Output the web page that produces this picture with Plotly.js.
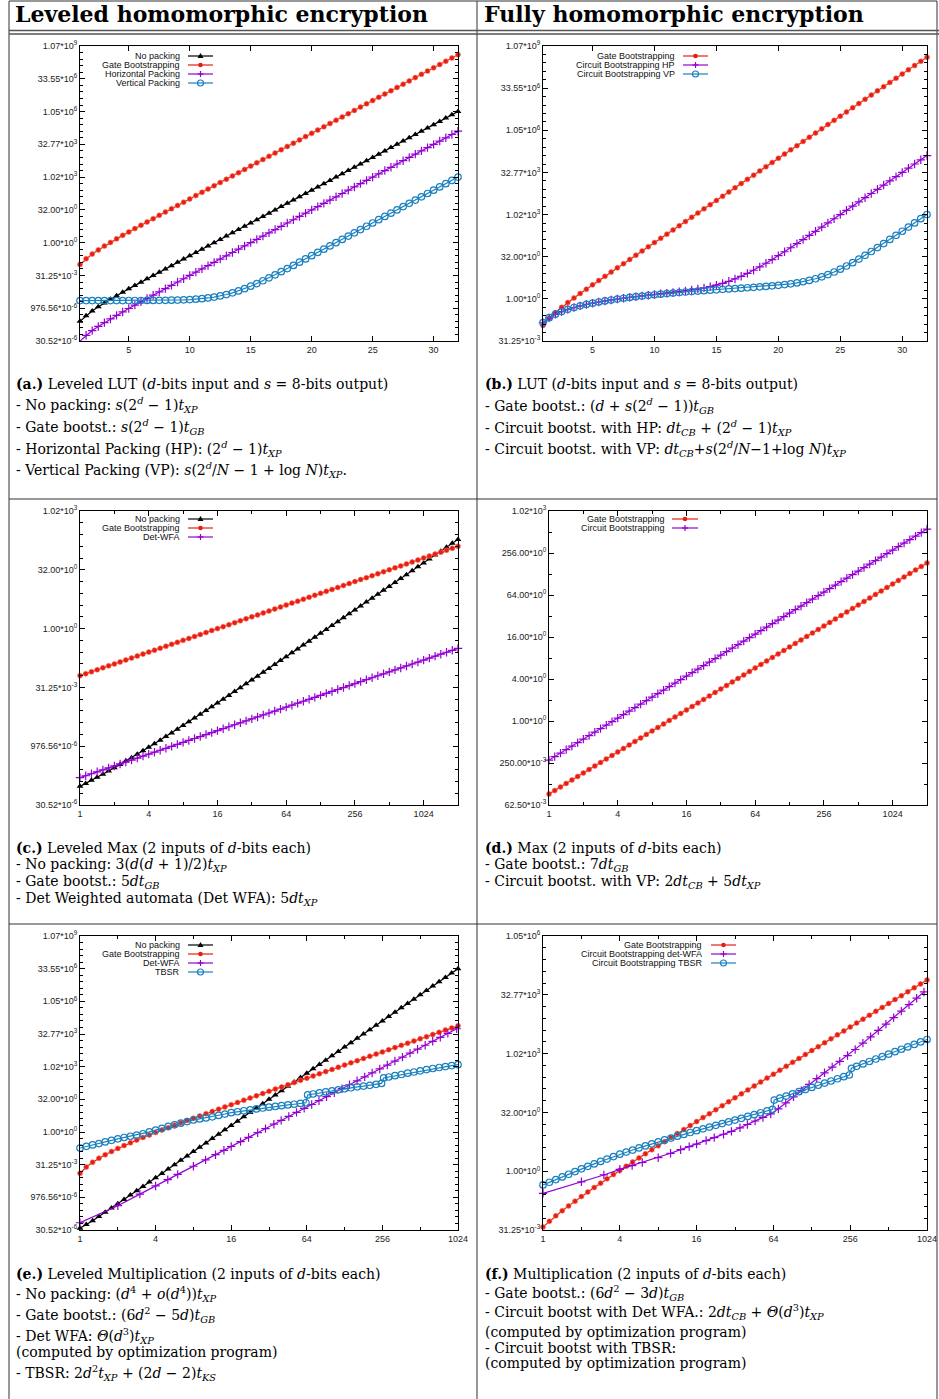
<!DOCTYPE html>
<html><head><meta charset="utf-8">
<script src="https://cdn.plot.ly/plotly-3.0.1.min.js"></script>
<style>html,body{margin:0;padding:0;background:#fff}#chart{width:939px;height:1399px}</style>
</head><body><div id="chart"></div>
<script>
// ---------------- DATA (seconds) ----------------
const ab_d = [1,1.5,2,2.5,3,3.5,4,4.5,5,5.5,6,6.5,7,7.5,8,8.5,9,9.5,10,10.5,11,11.5,12,12.5,13,13.5,14,14.5,15,15.5,16,16.5,17,17.5,18,18.5,19,19.5,20,20.5,21,21.5,22,22.5,23,23.5,24,24.5,25,25.5,26,26.5,27,27.5,28,28.5,29,29.5,30,30.5,31,31.5,32];
// (a) Leveled LUT
const a_nopack = [2.44e-4,4.46e-4,7.32e-4,1.137e-3,1.709e-3,2.517e-3,3.662e-3,5.28e-3,7.568e-3,1.08e-2,1.538e-2,2.185e-2,3.101e-2,4.395e-2,6.226e-2,8.814e-2,0.1248,0.1765,0.2498,0.3533,0.4998,0.7068,0.9998,1.414,2,2.828,4,5.657,8,11.31,16,22.63,32,45.25,64,90.51,128,181,256,362,512,724.1,1024,1448,2048,2896,4096,5793,8192,11585,16384,23170,32768,46341,65536,92682,131072,185364,262144,370728,524288,741455,1048576];
const a_gate = [0.1,0.1828,0.3,0.4657,0.7,1.031,1.5,2.163,3.1,4.425,6.3,8.951,12.7,18.0,25.5,36.1,51.1,72.3,102.3,144.7,204.7,289.5,409.5,579.2,819.1,1158,1638,2317,3277,4634,6554,9268,13107,18536,26214,37073,52429,74146,1.049e5,1.483e5,2.097e5,2.966e5,4.194e5,5.932e5,8.389e5,1.186e6,1.678e6,2.373e6,3.355e6,4.745e6,6.711e6,9.491e6,1.342e7,1.898e7,2.684e7,3.796e7,5.369e7,7.593e7,1.074e8,1.519e8,2.147e8,3.037e8,4.295e8];
const a_hp = [3.05e-5,5.58e-5,9.16e-5,1.421e-4,2.136e-4,3.146e-4,4.578e-4,6.6e-4,9.46e-4,1.35e-3,1.923e-3,2.732e-3,3.876e-3,5.494e-3,7.782e-3,1.102e-2,1.559e-2,2.206e-2,3.122e-2,4.416e-2,6.247e-2,8.835e-2,0.125,0.1768,0.25,0.3536,0.5,0.7071,1,1.414,2,2.828,4,5.657,8,11.31,16,22.63,32,45.25,64,90.51,128,181,256,362,512,724.1,1024,1448,2048,2896,4096,5793,8192,11585,16384,23170,32768,46341,65536,92682,131072];
const a_vp = [2.198e-3,2.198e-3,2.198e-3,2.198e-3,2.199e-3,2.2e-3,2.201e-3,2.202e-3,2.205e-3,2.208e-3,2.212e-3,2.219e-3,2.228e-3,2.24e-3,2.258e-3,2.284e-3,2.319e-3,2.37e-3,2.441e-3,2.542e-3,2.685e-3,2.887e-3,3.174e-3,3.578e-3,4.15e-3,4.959e-3,6.103e-3,7.721e-3,1.001e-2,1.325e-2,1.782e-2,2.43e-2,3.345e-2,4.639e-2,6.47e-2,9.06e-2,0.1272,0.179,0.2522,0.3558,0.5022,0.7093,1.002,1.416,2.002,2.83,4.002,5.659,8.002,11.32,16,22.63,32,45.25,64,90.5,128,181,256,362,512,724,1024];
// (b) LUT
const b_gate = [0.1125,0.2016,0.325,0.497,0.7375,1.075,1.55,2.219,3.163,4.494,6.375,9.03,12.79,18.1,25.6,36.2,51.2,72.4,102.4,144.8,204.8,289.6,409.6,579.4,819.3,1158,1638,2317,3277,4634,6554,9268,13107,18536,26214,37073,52429,74146,1.049e5,1.483e5,2.097e5,2.966e5,4.194e5,5.932e5,8.389e5,1.186e6,1.678e6,2.373e6,3.355e6,4.745e6,6.711e6,9.491e6,1.342e7,1.898e7,2.684e7,3.796e7,5.369e7,7.593e7,1.074e8,1.519e8,2.147e8,3.037e8,4.295e8];
const b_hp = [0.14,0.21,0.28,0.35,0.42,0.49,0.56,0.631,0.701,0.771,0.842,0.913,0.984,1.055,1.128,1.201,1.276,1.352,1.431,1.514,1.603,1.698,1.805,1.927,2.07,2.244,2.46,2.737,3.1,3.584,4.24,5.138,6.38,8.107,10.52,13.9,18.66,25.36,34.8,48.12,66.94,93.52,131.1,184.2,259.2,365.3,515.4,727.5,1027.5,1452,2052,2900,4100,5797,8196,11589,16388,23174,32772,46345,65540,92686,131077];
const b_vp = [0.142,0.212,0.282,0.352,0.422,0.492,0.562,0.632,0.702,0.772,0.842,0.912,0.982,1.052,1.122,1.192,1.262,1.332,1.402,1.473,1.543,1.613,1.683,1.754,1.824,1.895,1.966,2.038,2.11,2.183,2.258,2.334,2.413,2.496,2.585,2.681,2.787,2.909,3.052,3.226,3.442,3.719,4.082,4.566,5.222,6.12,7.362,9.089,11.5,14.89,19.64,26.34,35.78,49.1,67.92,94.49,132.1,185.1,260.2,366.3,516.3,728.5,1029];
// (c)/(d) Max
const cd_d = [1,1.122,1.26,1.414,1.587,1.782,2,2.245,2.52,2.828,3.175,3.564,4,4.49,5.04,5.657,6.35,7.127,8,8.98,10.08,11.31,12.7,14.25,16,17.96,20.16,22.63,25.4,28.51,32,35.92,40.32,45.25,50.8,57.02,64,71.84,80.63,90.51,101.6,114,128,143.7,161.3,181,203.2,228.1,256,287.4,322.5,362,406.4,456.1,512,574.7,645.1,724.1,812.7,912.3,1024,1149,1290,1448,1625,1825,2048];
const c_nopack = [9.16e-5,1.09e-4,1.304e-4,1.563e-4,1.88e-4,2.269e-4,2.747e-4,3.335e-4,4.061e-4,4.957e-4,6.07e-4,7.447e-4,9.156e-4,1.128e-3,1.394e-3,1.724e-3,2.137e-3,2.652e-3,3.296e-3,4.103e-3,5.113e-3,6.374e-3,7.965e-3,9.949e-3,1.245e-2,1.559e-2,1.953e-2,2.448e-2,3.07e-2,3.852e-2,4.834e-2,6.071e-2,7.627e-2,9.581e-2,0.1205,0.1515,0.1904,0.2396,0.3013,0.3792,0.4772,0.6002,0.7559,0.9519,1.198,1.508,1.9,2.392,3.012,3.795,4.776,6.016,7.58,9.544,12.02,15.15,19.08,24.04,30.27,38.14,48.05,60.49,76.24,96.05,121,152.6,192.1];
const c_gate = [0.0625,0.07013,0.07875,0.08839,0.09921,0.1114,0.125,0.1403,0.1575,0.1768,0.1984,0.2227,0.25,0.2806,0.315,0.3536,0.3969,0.4454,0.5,0.5612,0.63,0.7071,0.7937,0.8909,1,1.122,1.26,1.414,1.587,1.782,2,2.245,2.52,2.828,3.175,3.564,4,4.49,5.04,5.657,6.35,7.127,8,8.98,10.08,11.31,12.7,14.25,16,17.96,20.16,22.63,25.4,28.51,32,35.92,40.32,45.25,50.8,57.02,64,71.84,80.63,90.51,101.6,114,128];
const c_wfa = [1.526e-4,1.713e-4,1.923e-4,2.158e-4,2.422e-4,2.719e-4,3.052e-4,3.426e-4,3.845e-4,4.316e-4,4.845e-4,5.438e-4,6.104e-4,6.852e-4,7.69e-4,8.632e-4,9.69e-4,1.088e-3,1.221e-3,1.37e-3,1.538e-3,1.726e-3,1.938e-3,2.175e-3,2.441e-3,2.741e-3,3.076e-3,3.453e-3,3.876e-3,4.35e-3,4.883e-3,5.481e-3,6.152e-3,6.905e-3,7.752e-3,8.701e-3,9.766e-3,1.096e-2,1.23e-2,1.381e-2,1.55e-2,1.74e-2,1.953e-2,2.192e-2,2.461e-2,2.762e-2,3.101e-2,3.48e-2,3.906e-2,4.385e-2,4.922e-2,5.524e-2,6.201e-2,6.96e-2,7.813e-2,8.77e-2,9.843e-2,0.1105,0.124,0.1392,0.1563,0.1754,0.1969,0.221,0.248,0.2784,0.3125];
const d_gate = [0.09,0.101,0.1134,0.1273,0.1429,0.1604,0.18,0.202,0.2268,0.2545,0.2858,0.3208,0.36,0.4041,0.4536,0.5091,0.5715,0.6414,0.72,0.8082,0.9072,1.018,1.143,1.283,1.44,1.616,1.814,2.036,2.286,2.566,2.88,3.233,3.629,4.073,4.572,5.132,5.76,6.466,7.257,8.146,9.144,10.26,11.52,12.93,14.52,16.29,18.29,20.53,23.04,25.87,29.03,32.58,36.58,41.05,46.08,51.72,58.06,65.17,73.14,82.11,92.16,103.4,116.1,130.3,146.3,164.2,184.3];
const d_circuit = [0.275,0.3087,0.3465,0.3889,0.4365,0.49,0.55,0.6174,0.693,0.7778,0.873,0.98,1.1,1.235,1.386,1.556,1.746,1.96,2.2,2.47,2.772,3.111,3.492,3.92,4.4,4.939,5.544,6.222,6.985,7.841,8.8,9.878,11.09,12.44,13.97,15.68,17.6,19.76,22.18,24.89,27.94,31.36,35.2,39.51,44.35,49.78,55.88,62.73,70.4,79.02,88.7,99.56,111.8,125.5,140.8,158,177.4,199.1,223.5,250.9,281.6,316.1,354.8,398.2,447,501.8,563.2];
// (e)/(f) Multiplication
const ef_d = [1,1.122,1.26,1.414,1.587,1.782,2,2.245,2.52,2.828,3.175,3.564,4,4.49,5.04,5.657,6.35,7.127,8,8.98,10.08,11.31,12.7,14.25,16,17.96,20.16,22.63,25.4,28.51,32,35.92,40.32,45.25,50.8,57.02,64,71.84,80.63,90.51,101.6,114,128,143.7,161.3,181,203.2,228.1,256,287.4,322.5,362,406.4,456.1,512,574.7,645.1,724.1,812.7,912.3,1024];
const e_nopack = [3.7e-5,5.4e-5,8.2e-5,1.28e-4,1.99e-4,3.13e-4,4.95e-4,7.8e-4,1.235e-3,1.955e-3,3.1e-3,4.92e-3,7.81e-3,1.24e-2,1.97e-2,3.125e-2,4.96e-2,7.87e-2,0.125,0.198,0.315,0.5,0.794,1.26,2,3.17,5.04,8,12.7,20.16,32,50.8,80.6,128,203,322.5,512,813,1290,2048,3251,5160,8192,13004,20643,32768,52016,82570,131072,208064,330281,524288,832255,1321122,2.097e6,3.329e6,5.284e6,8.389e6,1.332e7,2.114e7,3.355e7];
const e_gate = [0.0125,0.0243,0.0403,0.0616,0.0898,0.1268,0.175,0.2377,0.3188,0.4232,0.5576,0.7297,0.95,1.231,1.59,2.046,2.627,3.365,4.3,5.486,6.99,8.893,11.3,14.35,18.2,23.07,29.22,36.99,46.8,59.17,74.8,94.53,119.4,150.8,190.3,240.3,303.2,382.6,482.6,608.7,767.7,968.2,1221,1539,1941,2446,3084,3887,4899,6175,7782,9808,12360,15576,19629,24736,31170,39277,49492,62363,78579];
const e_wfa_d = [1,2,3,4,5,6,8,10,12,14,16,19,22,26,30,35,40,46,53,61,70,80,92,106,122,140,161,185,212,244,280,322,370,425,488,561,644,740,850,1000];
const e_wfa = [6.57e-5,4.02e-4,1.369e-3,3.262e-3,6.4e-3,1.11e-2,2.646e-2,5.19e-2,9.01e-2,0.1433,0.2146,0.3608,0.561,0.929,1.433,2.282,3.415,5.213,7.995,12.2,18.51,27.7,42.28,64.85,98.97,150.1,229.1,348.3,526,804.6,1218,1859,2817,4299,6516,9947,15075,22847,34880,57052];
const ef_tbsr_d = [1,1.122,1.26,1.414,1.587,1.782,2,2.245,2.52,2.828,3.175,3.564,4,4.49,5.04,5.657,6.35,7.127,8,8.98,10.08,11.31,12.7,14.25,16,17.96,20.16,22.63,25.4,28.51,32,35.92,40.32,45.25,50.8,57.02,63,65,71.84,80.63,90.51,101.6,114,128,143.7,161.3,181,203.2,228.1,252,262,287.4,322.5,362,406.4,456.1,512,574.7,645.1,724.1,812.7,912.3,1024];
const e_tbsr = [0.183,0.218,0.254,0.293,0.349,0.412,0.483,0.559,0.637,0.722,0.829,1.021,1.231,1.474,1.803,2.144,2.549,3.031,3.58,4.0,4.469,4.993,5.776,6.727,7.782,8.574,9.514,10.48,11.55,12.73,13.93,15.14,16.34,17.63,19.03,20.68,22.32,50.91,56.49,63.12,70.52,78.79,88.03,98.35,109.1,121.1,130.7,142,157.6,173.6,310.8,342.5,393.4,445.7,512,580.1,661.6,749.5,843.4,935.9,1031,1144,1261];
const f_gate = [0.0375,0.0524,0.0719,0.097,0.1295,0.1713,0.225,0.2938,0.3818,0.4939,0.637,0.8188,1.05,1.344,1.716,2.188,2.786,3.543,4.5,5.71,7.242,9.176,11.62,14.71,18.6,23.52,29.72,37.55,47.43,59.88,75.6,95.42,120.4,151.9,191.6,241.7,304.8,384.4,484.6,611,770.3,971,1224,1543,1945,2451,3088,3892,4905,6182,7790,9816,12371,15588,19642,24750,31186,39295,49512,62386,78605];
const f_wfa_d = [1,2,3,4,5,6,8,10,12,14,16,19,22,26,30,35,40,46,53,61,70,80,92,106,122,140,161,185,212,244,280,322,370,425,488,561,644,740,850,970];
const f_wfa = [0.2717,0.5359,0.8011,1.117,1.394,1.67,2.219,2.876,3.553,4.245,4.959,6.084,7.24,8.833,10.48,12.91,15.7,19.29,23.75,29.18,39.5,55.87,80.28,115.8,166.3,234.8,330.4,463.3,646.3,911.5,1305,1898,2759,4011,5833,8539,12502,18303,26800,38710];
const f_tbsr = [0.4444,0.5212,0.6113,0.712,0.8351,0.9794,1.149,1.329,1.537,1.778,2.042,2.362,2.732,3.095,3.482,3.945,4.438,5.028,5.657,6.32,7.062,7.89,8.754,9.781,10.93,12.13,13.45,14.93,16.56,18.38,20.39,22.63,25.28,28.05,31.34,35.02,38.32,66.25,74.03,83.87,95.67,108.4,122.8,139.1,158.7,179.8,203.7,232.3,263.4,290,430.5,484.4,556.4,643.6,744.3,855,989.1,1144,1323,1520,1758,2034,2353];

// tick labels
const yt_vals = [3.0518e-5,9.7656e-4,0.03125,1,32,1024,32768,1048576,33554432,1073741824];
const yt_text = ['30.52*10<sup>-6</sup>','976.56*10<sup>-6</sup>','31.25*10<sup>-3</sup>','1.00*10<sup>0</sup>','32.00*10<sup>0</sup>','1.02*10<sup>3</sup>','32.77*10<sup>3</sup>','1.05*10<sup>6</sup>','33.55*10<sup>6</sup>','1.07*10<sup>9</sup>'];
const yt_d_vals = [0.0625,0.25,1,4,16,64,256,1024];
const yt_d_text = ['62.50*10<sup>-3</sup>','250.00*10<sup>-3</sup>','1.00*10<sup>0</sup>','4.00*10<sup>0</sup>','16.00*10<sup>0</sup>','64.00*10<sup>0</sup>','256.00*10<sup>0</sup>','1.02*10<sup>3</sup>'];
const xt_lin = [5,10,15,20,25,30];
const xt_log = [1,4,16,64,256,1024];

// ---------------- LAYOUT HELPERS ----------------
const W = 939, H = 1399;
const px = v => v / W, py = v => 1 - v / H;
const COL = {np:'#000000', gb:'#e51e10', hp:'#9400d3', vp:'#1a80bf'};
const MK = {
  np:{symbol:'triangle-up', size:6, color:COL.np},
  gb:{symbol:'circle', size:5, color:COL.gb, line:{width:0.6, color:'#ff7060'}},
  hp:{symbol:'cross-thin', size:6, color:COL.hp, line:{width:1.2, color:COL.hp}},
  vp:{symbol:'circle-open', size:6.5, color:COL.vp, line:{width:1.2, color:COL.vp}}
};
const sfx = n => (n === 1 ? '' : String(n));
function tr(x, y, n, k, name) {
  return {type:'scatter', mode:'lines+markers', x:x, y:y, name:name,
    xaxis:'x'+sfx(n), yaxis:'y'+sfx(n), line:{color:COL[k], width:1.2},
    marker:MK[k], cliponaxis:false, showlegend:false, hoverinfo:'skip'};
}
const data = [
  tr(ab_d, a_nopack, 1, 'np', 'No packing'),
  tr(ab_d, a_gate, 1, 'gb', 'Gate Bootstrapping'),
  tr(ab_d, a_hp, 1, 'hp', 'Horizontal Packing'),
  tr(ab_d, a_vp, 1, 'vp', 'Vertical Packing'),
  tr(ab_d, b_gate, 2, 'gb', 'Gate Bootstrapping'),
  tr(ab_d, b_hp, 2, 'hp', 'Circuit Bootstrapping HP'),
  tr(ab_d, b_vp, 2, 'vp', 'Circuit Bootstrapping VP'),
  tr(cd_d, c_nopack, 3, 'np', 'No packing'),
  tr(cd_d, c_gate, 3, 'gb', 'Gate Bootstrapping'),
  tr(cd_d, c_wfa, 3, 'hp', 'Det-WFA'),
  tr(cd_d, d_gate, 4, 'gb', 'Gate Bootstrapping'),
  tr(cd_d, d_circuit, 4, 'hp', 'Circuit Bootstrapping'),
  tr(ef_d, e_nopack, 5, 'np', 'No packing'),
  tr(ef_d, e_gate, 5, 'gb', 'Gate Bootstrapping'),
  tr(e_wfa_d, e_wfa, 5, 'hp', 'Det-WFA'),
  tr(ef_tbsr_d, e_tbsr, 5, 'vp', 'TBSR'),
  tr(ef_d, f_gate, 6, 'gb', 'Gate Bootstrapping'),
  tr(f_wfa_d, f_wfa, 6, 'hp', 'Circuit Bootstrapping det-WFA'),
  tr(ef_tbsr_d, f_tbsr, 6, 'vp', 'Circuit Bootstrapping TBSR')
];

const boxes = {1:{l:80,r:458,t:46,b:341}, 2:{l:543,r:927,t:46,b:341}, 3:{l:80,r:458,t:511,b:805},
               4:{l:549,r:927,t:511,b:805}, 5:{l:80,r:458,t:936,b:1230}, 6:{l:543,r:927,t:936,b:1230}};
const axBase = {showline:true, linecolor:'#000', linewidth:1, mirror:'allticks', ticks:'inside',
  ticklen:5, tickwidth:1, tickcolor:'#000', showgrid:false, zeroline:false, fixedrange:true,
  tickfont:{family:'Liberation Sans, Arial, sans-serif', size:9, color:'#222'}};
function pow2(lo, hi, step) { const o = []; for (let e = lo; e <= hi; e += step) o.push(Math.pow(2, e)); return o; }
const ycfg = {
  1:{lo:-15, hi:30, tv:yt_vals, tt:yt_text},
  2:{lo:-5, hi:30, tv:yt_vals.slice(2), tt:yt_text.slice(2)},
  3:{lo:-15, hi:10, tv:yt_vals.slice(0,6), tt:yt_text.slice(0,6)},
  4:{lo:-4, hi:10, tv:yt_d_vals, tt:yt_d_text},
  5:{lo:-15, hi:30, tv:yt_vals, tt:yt_text},
  6:{lo:-5, hi:20, tv:yt_vals.slice(2,8), tt:yt_text.slice(2,8)}
};
const layout = {width:W, height:H, margin:{l:0,r:0,t:0,b:0}, paper_bgcolor:'#fff', plot_bgcolor:'#fff',
  showlegend:false, shapes:[], annotations:[]};
for (let n = 1; n <= 6; n++) {
  const b = boxes[n], c = ycfg[n];
  const xa = Object.assign({}, axBase, {domain:[b.l/W, b.r/W], anchor:'y'+sfx(n)});
  if (n <= 2) {
    Object.assign(xa, {type:'linear', range:[1,32], tickmode:'array', tickvals:xt_lin, ticktext:xt_lin.map(String)});
  } else {
    const xmax = (n <= 4) ? 2048 : 1024;
    Object.assign(xa, {type:'log', range:[0, Math.log10(xmax)], tickmode:'array', tickvals:xt_log, ticktext:xt_log.map(String),
      minor:{tickmode:'array', tickvals:pow2(1, Math.log2(xmax), 2), ticks:'inside', ticklen:3, tickcolor:'#000'}});
  }
  const ya = Object.assign({}, axBase, {domain:[1-b.b/H, 1-b.t/H], anchor:'x'+sfx(n), type:'log',
    range:[Math.log10(Math.pow(2,c.lo)), Math.log10(Math.pow(2,c.hi))], tickmode:'array', tickvals:c.tv, ticktext:c.tt,
    minor:{tickmode:'array', tickvals:pow2(c.lo, c.hi, 1), ticks:'inside', ticklen:3, tickcolor:'#000'}});
  layout['xaxis'+sfx(n)] = xa;
  layout['yaxis'+sfx(n)] = ya;
}

// table rules
function hline(x0, y0, x1, y1, color, w) {
  return {type:'line', xref:'paper', yref:'paper', x0:px(x0), y0:py(y0), x1:px(x1), y1:py(y1), line:{color:color, width:w}};
}
[[9,1,937,1],[9,499,937,499],[9,924,937,924],[9,1,9,1399],[477,1,477,1399],[937,1,937,1399]]
  .forEach(s => layout.shapes.push(hline(s[0],s[1],s[2],s[3],'#333',1)));
layout.shapes.push(hline(9,30.5,939,30.5,'#555',1.5));
layout.shapes.push(hline(9,34,939,34,'#555',1.5));

// gnuplot-style keys (text right, sample on the right)
function keyMark(k, cx, cy) {
  const s = [];
  if (k === 'np') s.push({type:'path', xref:'paper', yref:'paper',
    path:'M'+px(cx)+','+py(cy-3)+' L'+px(cx-3)+','+py(cy+2)+' L'+px(cx+3)+','+py(cy+2)+' Z', fillcolor:COL.np, line:{width:0}});
  if (k === 'gb') s.push({type:'circle', xref:'paper', yref:'paper', x0:px(cx-2.3), x1:px(cx+2.3), y0:py(cy+2.3), y1:py(cy-2.3), fillcolor:COL.gb, line:{width:0}});
  if (k === 'hp') { s.push(hline(cx-3,cy,cx+3,cy,COL.hp,1.2)); s.push(hline(cx,cy-3,cx,cy+3,COL.hp,1.2)); }
  if (k === 'vp') s.push({type:'circle', xref:'paper', yref:'paper', x0:px(cx-3), x1:px(cx+3), y0:py(cy+3), y1:py(cy-3), fillcolor:'rgba(0,0,0,0)', line:{width:1.2, color:COL.vp}});
  return s;
}
const keys = [
  {tx:182, l0:188, l1:213, rows:[56,65,74,83], items:[['No packing','np'],['Gate Bootstrapping','gb'],['Horizontal Packing','hp'],['Vertical Packing','vp']]},
  {tx:677, l0:683, l1:708, rows:[56,65,74], items:[['Gate Bootstrapping','gb'],['Circuit Bootstrapping HP','hp'],['Circuit Bootstrapping VP','vp']]},
  {tx:182, l0:188, l1:213, rows:[519,528,537], items:[['No packing','np'],['Gate Bootstrapping','gb'],['Det-WFA','hp']]},
  {tx:667, l0:672, l1:698, rows:[519,528], items:[['Gate Bootstrapping','gb'],['Circuit Bootstrapping','hp']]},
  {tx:182, l0:188, l1:213, rows:[945,954,963,972], items:[['No packing','np'],['Gate Bootstrapping','gb'],['Det-WFA','hp'],['TBSR','vp']]},
  {tx:704, l0:711, l1:736, rows:[945,954,963], items:[['Gate Bootstrapping','gb'],['Circuit Bootstrapping det-WFA','hp'],['Circuit Bootstrapping TBSR','vp']]}
];
keys.forEach(kk => kk.items.forEach((it, i) => {
  const y = kk.rows[i];
  layout.annotations.push({xref:'paper', yref:'paper', x:px(kk.tx), y:py(y), xanchor:'right', yanchor:'middle', showarrow:false,
    text:it[0], font:{family:'Liberation Sans, Arial, sans-serif', size:9, color:'#111'}});
  layout.shapes.push(hline(kk.l0, y, kk.l1, y, COL[it[1]], 1.2));
  keyMark(it[1], (kk.l0+kk.l1)/2, y).forEach(s => layout.shapes.push(s));
}));

// headers and captions
const SERIF = 'DejaVu Serif, Liberation Serif, serif';
function txt(x, y, t, size) {
  layout.annotations.push({xref:'paper', yref:'paper', x:px(x), y:py(y), xanchor:'left', yanchor:'middle', showarrow:false,
    text:t, font:{family:SERIF, size:size, color:'#000'}});
}
txt(13, 14, '<b>Leveled homomorphic encryption</b>', 22);
txt(482, 14, '<b>Fully homomorphic encryption</b>', 22);
const T = s => '<i>t</i><sub><i>' + s + '</i></sub>';
const D = '<i>d</i>';
const captions = [
  {x:14, rows:[384,405,427,449,470], lines:[
    '<b>(a.)</b> Leveled LUT ('+D+'-bits input and <i>s</i> = 8-bits output)',
    '- No packing: <i>s</i>(2<sup><i>d</i></sup> − 1)'+T('XP'),
    '- Gate bootst.: <i>s</i>(2<sup><i>d</i></sup> − 1)'+T('GB'),
    '- Horizontal Packing (HP): (2<sup><i>d</i></sup> − 1)'+T('XP'),
    '- Vertical Packing (VP): <i>s</i>(2<sup><i>d</i></sup>/<i>N</i> − 1 + log <i>N</i>)'+T('XP')+'.']},
  {x:483, rows:[384,406,428,449], lines:[
    '<b>(b.)</b> LUT ('+D+'-bits input and <i>s</i> = 8-bits output)',
    '- Gate bootst.: ('+D+' + <i>s</i>(2<sup><i>d</i></sup> − 1))'+T('GB'),
    '- Circuit bootst. with HP: '+D+T('CB')+' + (2<sup><i>d</i></sup> − 1)'+T('XP'),
    '- Circuit bootst. with VP: '+D+T('CB')+'+<i>s</i>(2<sup><i>d</i></sup>/<i>N</i>−1+log <i>N</i>)'+T('XP')]},
  {x:14, rows:[848,865,882,899], lines:[
    '<b>(c.)</b> Leveled Max (2 inputs of '+D+'-bits each)',
    '- No packing: 3('+D+'('+D+' + 1)/2)'+T('XP'),
    '- Gate bootst.: 5'+D+T('GB'),
    '- Det Weighted automata (Det WFA): 5'+D+T('XP')]},
  {x:483, rows:[848,865,882], lines:[
    '<b>(d.)</b> Max (2 inputs of '+D+'-bits each)',
    '- Gate bootst.: 7'+D+T('GB'),
    '- Circuit bootst. with VP: 2'+D+T('CB')+' + 5'+D+T('XP')]},
  {x:14, rows:[1274,1294,1315,1336,1352,1373], lines:[
    '<b>(e.)</b> Leveled Multiplication (2 inputs of '+D+'-bits each)',
    '- No packing: ('+D+'<sup>4</sup> + <i>o</i>('+D+'<sup>4</sup>))'+T('XP'),
    '- Gate bootst.: (6'+D+'<sup>2</sup> − 5'+D+')'+T('GB'),
    '- Det WFA: <i>Θ</i>('+D+'<sup>3</sup>)'+T('XP'),
    '(computed by optimization program)',
    '- TBSR: 2'+D+'<sup>2</sup>'+T('XP')+' + (2'+D+' − 2)'+T('KS')]},
  {x:483, rows:[1274,1293,1312,1332,1348,1363], lines:[
    '<b>(f.)</b> Multiplication (2 inputs of '+D+'-bits each)',
    '- Gate bootst.: (6'+D+'<sup>2</sup> − 3'+D+')'+T('GB'),
    '- Circuit bootst with Det WFA.: 2'+D+T('CB')+' + <i>Θ</i>('+D+'<sup>3</sup>)'+T('XP'),
    '(computed by optimization program)',
    '- Circuit bootst with TBSR:',
    '(computed by optimization program)']}
];
captions.forEach(c => c.lines.forEach((l, i) => txt(c.x, c.rows[i], l, 14)));

Plotly.newPlot('chart', data, layout, {staticPlot:true, displayModeBar:false});
</script></body></html>
